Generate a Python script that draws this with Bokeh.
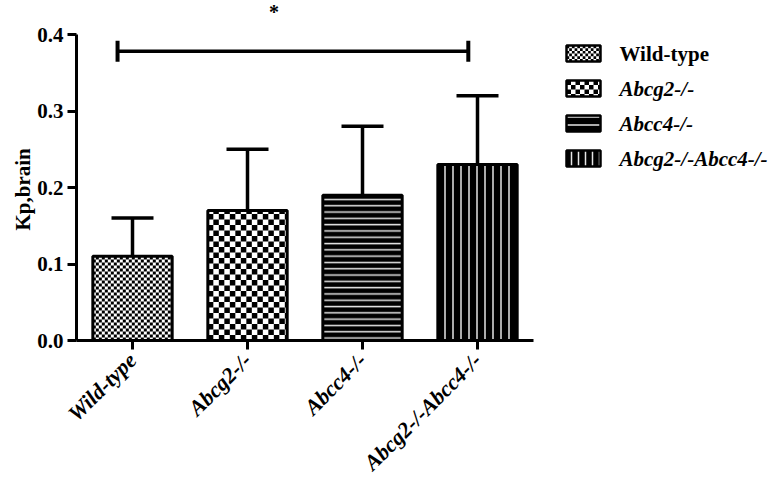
import math
from bokeh.plotting import figure
from bokeh.models import (Range1d, LinearAxis, FixedTicker, Whisker, TeeHead, Label, Title,
                          ColumnDataSource, NumeralTickFormatter)
from bokeh.core.properties import value
from bokeh.embed import file_html
from bokeh.resources import INLINE

# ---- data ----
categories = ["Wild-type", "Abcg2-/-", "Abcc4-/-", "Abcg2-/-Abcc4-/-"]
means = [0.11, 0.17, 0.19, 0.23]
errors = [0.05, 0.08, 0.09, 0.09]
y_ticks = [0.0, 0.1, 0.2, 0.3, 0.4]
y_label = "Kp,brain"
sig_pair = [1, 4]
sig_text = "*"

# ---- styles / layout ----
FONT = "Liberation Serif"
W = 780
LEFT, TOP = 76, 0
AXIS_Y = 340                       # pixel row of y = 0
PX_PER_UNIT = 115.0
PX_PER_Y = 765.0
frame_w = W - LEFT
frame_h = AXIS_Y - TOP
x0 = 0.513
BAR_W = 0.69

# pattern per bar: ("checker", cell_px) or hatch dict
patterns = [
    ("checker", 3.0),
    ("checker", 5.5),
    dict(fill_color="black", hatch_pattern="horizontal_line", hatch_color="#e6e6e6", hatch_scale=6.3, hatch_weight=1.5),
    dict(fill_color="black", hatch_pattern="vertical_line", hatch_color="#e6e6e6", hatch_scale=8, hatch_weight=1.5),
]
legend_patterns = [
    ("checker", 2.7),
    ("checker", 4.5),
    dict(fill_color="black", hatch_pattern="horizontal_line", hatch_color="#e6e6e6", hatch_scale=8, hatch_weight=1.5),
    dict(fill_color="black", hatch_pattern="vertical_line", hatch_color="#e6e6e6", hatch_scale=7, hatch_weight=1.5),
]
legend_italic = [False, True, True, True]


def checker_cells(left, right, bottom, top, dx, dy):
    L, R, B, T = [], [], [], []
    ncol = int(math.ceil((right - left) / dx - 1e-9))
    nrow = int(math.ceil((top - bottom) / dy - 1e-9))
    for r in range(nrow):
        for c in range(ncol):
            if (r + c) % 2 == 0:
                l = left + c * dx
                b = bottom + r * dy
                L.append(l)
                R.append(min(l + dx, right))
                B.append(b)
                T.append(min(b + dy, top))
    return L, R, B, T


p = figure(frame_width=frame_w, frame_height=frame_h,
           x_range=Range1d(x0, x0 + frame_w / PX_PER_UNIT),
           y_range=Range1d(0, frame_h / PX_PER_Y),
           x_axis_type=None, y_axis_type=None,
           output_backend="svg", toolbar_location=None,
           min_border_left=LEFT, min_border_right=0, min_border_top=TOP, min_border_bottom=20)
p.outline_line_color = None
p.xgrid.visible = False
p.ygrid.visible = False
p.background_fill_color = "white"
# helper ranges in image pixels (for the legend)
p.extra_x_ranges = {"px": Range1d(LEFT, W)}
p.extra_y_ranges = {"py": Range1d(AXIS_Y, TOP)}   # inverted: image rows

xs = list(range(1, len(categories) + 1))

# bars
for i, (x, m) in enumerate(zip(xs, means)):
    pat = patterns[i]
    if isinstance(pat, tuple):
        p.vbar(x=[x], top=[m], bottom=0, width=BAR_W, fill_color="white", line_color=None)
        L, R, B, T = checker_cells(x - BAR_W / 2, x + BAR_W / 2, 0, m,
                                   pat[1] / PX_PER_UNIT, pat[1] / PX_PER_Y)
        p.quad(left=L, right=R, bottom=B, top=T, fill_color="black", line_color=None)
        p.vbar(x=[x], top=[m], bottom=0, width=BAR_W, fill_color=None, line_color="black", line_width=3)
    else:
        p.vbar(x=[x], top=[m], bottom=0, width=BAR_W, line_color="black", line_width=3, **pat)

# error bars (upper only)
err_src = ColumnDataSource(dict(x=xs, top=means, upper=[m + e for m, e in zip(means, errors)]))
p.add_layout(Whisker(source=err_src, base="x", lower="top", upper="upper", dimension="height",
                     line_width=3.5, line_color="black",
                     upper_head=TeeHead(size=42, line_width=3.5, line_color="black"),
                     lower_head=None))

# significance bracket
sig_src = ColumnDataSource(dict(base=[0.378], lower=[sig_pair[0] - 0.13], upper=[sig_pair[1] - 0.08]))
p.add_layout(Whisker(source=sig_src, base="base", lower="lower", upper="upper", dimension="width",
                     line_width=3.5, line_color="black",
                     lower_head=TeeHead(size=21, line_width=4, line_color="black"),
                     upper_head=TeeHead(size=21, line_width=4, line_color="black")))
p.add_layout(Label(x=2.23, y=frame_h / PX_PER_Y, text=sig_text, text_align="center",
                   text_baseline="top", text_font=FONT, text_font_style="bold",
                   text_font_size="20px", text_color="black"))

# axes
yaxis = LinearAxis(bounds=(0, 0.4), ticker=FixedTicker(ticks=y_ticks),
                   formatter=NumeralTickFormatter(format="0.0"))
xaxis = LinearAxis(bounds=(x0, x0 + len(categories) * 1.0 - 0.026), ticker=FixedTicker(ticks=xs),
                   major_label_overrides={x: c for x, c in zip(xs, categories)},
                   major_label_orientation=math.pi / 4)
for ax in (yaxis, xaxis):
    ax.axis_line_width = 3
    ax.axis_line_color = "black"
    ax.major_tick_line_width = 3
    ax.major_tick_line_color = "black"
    ax.major_tick_out = 9
    ax.major_tick_in = 0
    ax.minor_tick_line_color = None
    ax.major_label_text_font = FONT
    ax.major_label_text_color = "black"
yaxis.major_label_standoff = 4
yaxis.major_label_text_font_size = "21px"
yaxis.major_label_text_font_style = "bold"
xaxis.major_label_standoff = 7
xaxis.major_label_text_font_size = "22px"
xaxis.major_label_text_font_style = "bold italic"
p.add_layout(yaxis, "left")
p.add_layout(xaxis, "below")

# y title (as a left-side Title so it can sit over 0.0-0.4)
p.add_layout(Title(text=y_label, align="left", offset=AXIS_Y - 230, standoff=0,
                   text_font=FONT, text_font_style="bold", text_font_size="21px",
                   text_color="black"), "left")

# legend (manual, in image pixel coordinates)
leg_rows = [53, 88, 123, 158]
for i, c in enumerate(categories):
    yc = leg_rows[i]
    pat = legend_patterns[i]
    if isinstance(pat, tuple):
        p.quad(left=[566], right=[600], bottom=[yc + 8], top=[yc - 8], x_range_name="px", y_range_name="py",
               fill_color="white", line_color=None)
        L, R, B, T = checker_cells(566, 600, yc - 8, yc + 8, pat[1], pat[1])
        p.quad(left=L, right=R, bottom=B, top=T, x_range_name="px", y_range_name="py",
               fill_color="black", line_color=None)
        p.quad(left=[566], right=[600], bottom=[yc + 8], top=[yc - 8], x_range_name="px", y_range_name="py",
               fill_color=None, line_color="black", line_width=2.5)
    else:
        p.quad(left=[566], right=[600], bottom=[yc + 8], top=[yc - 8], x_range_name="px", y_range_name="py",
               line_color="black", line_width=2.5, **pat)
    p.text(x=[619], y=[yc], text=[c], x_range_name="px", y_range_name="py",
           text_baseline="middle", text_align="left", text_font=value(FONT),
           text_font_style="bold italic" if legend_italic[i] else "bold",
           text_font_size="21px", text_color="black")

open("out.html", "w").write(file_html(p, INLINE))
